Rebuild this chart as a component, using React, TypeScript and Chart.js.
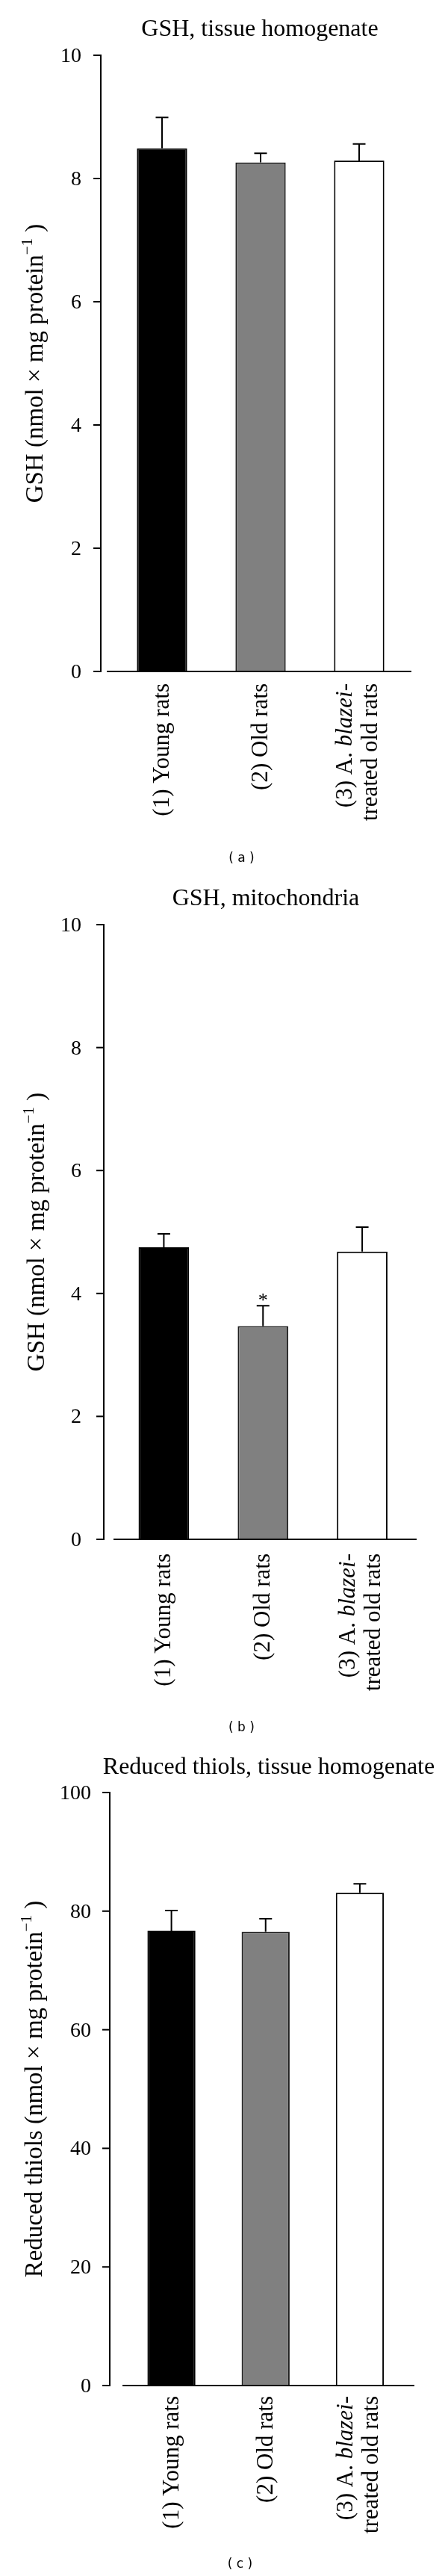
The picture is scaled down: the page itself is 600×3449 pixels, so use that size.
import React, { useEffect, useRef } from "react";
import { Chart, registerables } from "chart.js";

Chart.register(...registerables);

// ---------- data ----------
const categories = ["(1) Young rats", "(2) Old rats", "(3) A. blazei-treated old rats"];
// rotated tick labels, line by line, segments: [text, italic]
const categoryLabelLines: [string, boolean][][][] = [
  [[["(1) Young rats", false]]],
  [[["(2) Old rats", false]]],
  [
    [["(3) A. ", false], ["blazei", true], ["-", false]],
    [["treated old rats", false]],
  ],
];
const gshTissue = [8.49, 8.26, 8.29];
const gshTissueErr = [0.5, 0.15, 0.27];
const gshMito = [4.75, 3.47, 4.68];
const gshMitoErr = [0.22, 0.33, 0.4];
const thiols = [76.7, 76.5, 83.1];
const thiolsErr = [3.4, 2.2, 1.5];
const gshTicks = [0, 2, 4, 6, 8, 10];
const thiolTicks = [0, 20, 40, 60, 80, 100];
const marksA = ["", "", ""];
const marksB = ["", "*", ""];
const marksC = ["", "", ""];
const barColors = ["#000000", "#808080", "#ffffff"];
const barBorders = ["#000000", "#1e1e1e", "#000000"];

const SERIF = '"Liberation Serif", "Times New Roman", serif';
const SANS = '"DejaVu Sans", Verdana, sans-serif';

type Panel = {
  title: string;
  yTitle: string;
  values: number[];
  errors: number[];
  ticks: number[];
  marks: string[];
  caption: string;
  top: number;
  height: number;
  yTopPx: number;
  yZeroPx: number;
  areaLeft: number;
  areaRight: number;
  axisX: number;
  tickLabelRight: number;
  xAxisFrom: number;
  xAxisTo: number;
  titleX: number;
  titleBase: number;
  labelTop: number;
  capX: number;
  capY: number;
  yLabX: number;
};

const panels: Panel[] = [
  {
    title: "GSH, tissue homogenate",
    yTitle: "GSH",
    values: gshTissue,
    errors: gshTissueErr,
    ticks: gshTicks,
    marks: marksA,
    caption: "( a )",
    top: 0,
    height: 1170,
    yTopPx: 74,
    yZeroPx: 899,
    areaLeft: 151,
    areaRight: 547,
    axisX: 135,
    tickLabelRight: 109,
    xAxisFrom: 143,
    xAxisTo: 551,
    titleX: 348,
    titleBase: 48,
    labelTop: 915,
    capX: 323.5,
    capY: 1150,
    yLabX: 57,
  },
  {
    title: "GSH, mitochondria",
    yTitle: "GSH",
    values: gshMito,
    errors: gshMitoErr,
    ticks: gshTicks,
    marks: marksB,
    caption: "( b )",
    top: 1170,
    height: 1160,
    yTopPx: 1238,
    yZeroPx: 2061,
    areaLeft: 153,
    areaRight: 551.5,
    axisX: 139,
    tickLabelRight: 109,
    xAxisFrom: 152,
    xAxisTo: 558,
    titleX: 356,
    titleBase: 1212,
    labelTop: 2080,
    capX: 323.5,
    capY: 2314,
    yLabX: 59,
  },
  {
    title: "Reduced thiols, tissue homogenate",
    yTitle: "Reduced thiols",
    values: thiols,
    errors: thiolsErr,
    ticks: thiolTicks,
    marks: marksC,
    caption: "( c )",
    top: 2330,
    height: 1119,
    yTopPx: 2400,
    yZeroPx: 3194,
    areaLeft: 166.5,
    areaRight: 545,
    axisX: 147,
    tickLabelRight: 122,
    xAxisFrom: 164,
    xAxisTo: 555,
    titleX: 360,
    titleBase: 2375,
    labelTop: 3208,
    capX: 321.5,
    capY: 3434,
    yLabX: 56,
  },
];

function makeOverlay(p: Panel) {
  return {
    id: "overlay",
    afterDraw(chart: any) {
      const ctx: CanvasRenderingContext2D = chart.ctx;
      const xs = chart.scales.x;
      const ys = chart.scales.y;
      const off = p.top;
      ctx.save();
      ctx.fillStyle = "#000";
      ctx.strokeStyle = "#000";
      ctx.lineCap = "butt";

      // title
      ctx.font = `32px ${SERIF}`;
      ctx.textAlign = "center";
      ctx.textBaseline = "alphabetic";
      ctx.fillText(p.title, p.titleX, p.titleBase - off);

      // y axis
      const yTopPx = ys.getPixelForValue(p.ticks[p.ticks.length - 1]);
      const y0 = ys.getPixelForValue(0);
      ctx.lineWidth = 2;
      ctx.beginPath();
      ctx.moveTo(p.axisX, yTopPx - 1);
      ctx.lineTo(p.axisX, y0 + 1);
      ctx.stroke();
      ctx.font = `28px ${SERIF}`;
      ctx.textAlign = "right";
      for (const t of p.ticks) {
        const y = ys.getPixelForValue(t);
        ctx.beginPath();
        ctx.moveTo(p.axisX - 10, y);
        ctx.lineTo(p.axisX, y);
        ctx.stroke();
        ctx.fillText(String(t), p.tickLabelRight, y + 9);
      }

      // x axis
      ctx.beginPath();
      ctx.moveTo(p.xAxisFrom, y0);
      ctx.lineTo(p.xAxisTo, y0);
      ctx.stroke();

      // error bars + marks
      p.values.forEach((v, i) => {
        const x = xs.getPixelForValue(i);
        const yv = ys.getPixelForValue(v);
        const ye = ys.getPixelForValue(v + p.errors[i]);
        ctx.lineWidth = 2;
        ctx.beginPath();
        ctx.moveTo(x, yv);
        ctx.lineTo(x, ye);
        ctx.moveTo(x - 8.5, ye);
        ctx.lineTo(x + 8.5, ye);
        ctx.stroke();
        if (p.marks[i]) {
          ctx.font = `26px ${SERIF}`;
          ctx.textAlign = "center";
          ctx.fillText(p.marks[i], x, ye + 1);
        }
      });

      // category labels (rotated)
      const drawRot = (bx: number, yEnd: number, segs: [string, boolean][], size: number) => {
        ctx.save();
        ctx.translate(bx, yEnd);
        ctx.rotate(-Math.PI / 2);
        ctx.textAlign = "left";
        ctx.textBaseline = "alphabetic";
        const widths = segs.map(([t, it]) => {
          ctx.font = `${it ? "italic " : ""}${size}px ${SERIF}`;
          return ctx.measureText(t).width;
        });
        const total = widths.reduce((a, b) => a + b, 0);
        let cx = -total;
        segs.forEach(([t, it], k) => {
          ctx.font = `${it ? "italic " : ""}${size}px ${SERIF}`;
          ctx.fillText(t, cx, 0);
          cx += widths[k];
        });
        ctx.restore();
      };
      categoryLabelLines.forEach((lines, i) => {
        const x = xs.getPixelForValue(i);
        if (lines.length === 1) {
          drawRot(x + 9, p.labelTop - off, lines[0], 31);
        } else {
          drawRot(x - 10, p.labelTop - off, lines[0], 31);
          drawRot(x + 24, p.labelTop - off, lines[1], 31);
        }
      });

      // y axis title (rotated, with superscript)
      const midY = (yTopPx + y0) / 2;
      ctx.save();
      ctx.translate(p.yLabX, midY);
      ctx.rotate(-Math.PI / 2);
      ctx.textAlign = "left";
      ctx.textBaseline = "alphabetic";
      const mainT = `${p.yTitle} (nmol \u00d7 mg protein`;
      const supT = "\u22121";
      const endT = " )";
      ctx.font = `33px ${SERIF}`;
      const w1 = ctx.measureText(mainT).width;
      const w3 = ctx.measureText(endT).width;
      ctx.font = `21px ${SERIF}`;
      const w2 = ctx.measureText(supT).width;
      const tot = w1 + w2 + w3;
      let sx = -tot / 2;
      ctx.font = `33px ${SERIF}`;
      ctx.fillText(mainT, sx, 0);
      sx += w1;
      ctx.font = `21px ${SERIF}`;
      ctx.fillText(supT, sx, -14);
      sx += w2;
      ctx.font = `33px ${SERIF}`;
      ctx.fillText(endT, sx, 0);
      ctx.restore();

      // caption
      ctx.font = `17px ${SANS}`;
      ctx.textAlign = "center";
      ctx.textBaseline = "middle";
      ctx.fillText(p.caption, p.capX, p.capY - off);

      ctx.restore();
    },
  };
}

function PanelChart({ p }: { p: Panel }) {
  const ref = useRef<HTMLCanvasElement | null>(null);
  useEffect(() => {
    if (!ref.current) return;
    const chart = new Chart(ref.current, {
      type: "bar",
      data: {
        labels: categories,
        datasets: [
          {
            data: p.values,
            backgroundColor: barColors,
            borderColor: barBorders,
            borderWidth: 2,
            borderSkipped: "bottom",
            barPercentage: 0.51,
            categoryPercentage: 1,
          },
        ],
      },
      options: {
        responsive: false,
        animation: false,
        devicePixelRatio: 1,
        layout: {
          padding: {
            left: p.areaLeft,
            right: 600 - p.areaRight,
            top: p.yTopPx - p.top,
            bottom: p.top + p.height - p.yZeroPx,
          },
        },
        plugins: {
          legend: { display: false },
          tooltip: { enabled: false },
          title: { display: false },
        },
        scales: {
          x: { display: false },
          y: { display: false, min: 0, max: p.ticks[p.ticks.length - 1] },
        },
      },
      plugins: [makeOverlay(p)],
    } as any);
    return () => chart.destroy();
  }, [p]);
  return (
    <canvas
      ref={ref}
      width={600}
      height={p.height}
      style={{ position: "absolute", left: 0, top: p.top, width: 600, height: p.height, display: "block" }}
    />
  );
}

export default function App() {
  return (
    <div style={{ position: "absolute", left: 0, top: 0, width: 600, height: 3449, background: "#fff" }}>
      {panels.map((p, i) => (
        <PanelChart key={i} p={p} />
      ))}
    </div>
  );
}
